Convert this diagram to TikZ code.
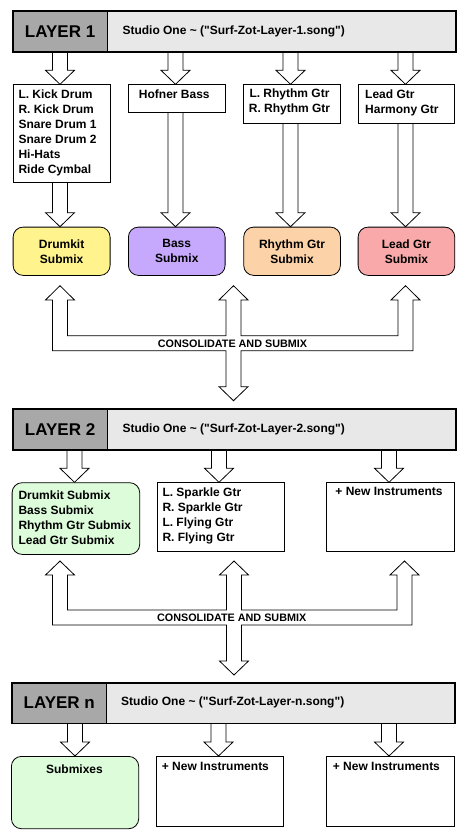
\documentclass[tikz,border=0pt]{standalone}
\usepackage{fontspec}
\setmainfont{Liberation Sans}[Ligatures=TeXOff]
\usetikzlibrary{calc}
\pgfdeclarelayer{bg}
\pgfsetlayers{bg,main}
\definecolor{hdark}{HTML}{A8A8A8}
\definecolor{hlight}{HTML}{E8E8E8}
\definecolor{cyel}{HTML}{FEF38C}
\definecolor{cpur}{HTML}{C6A9FD}
\definecolor{cpea}{HTML}{FCD2A9}
\definecolor{cpin}{HTML}{F9A9A9}
\definecolor{cgrn}{HTML}{DCFCDA}
\tikzset{
 hdrdark/.style={draw=black, fill=hdark, line width=0.8pt, inner sep=0, anchor=north west, minimum height=40pt, font=\fontsize{17}{20}\selectfont\bfseries},
 hdrlight/.style={draw=black, fill=hlight, line width=0.8pt, inner sep=0, anchor=north west, minimum height=40pt},
 hdrframe/.style={line width=1.5pt},
 studio/.style={anchor=west, inner sep=0, font=\fontsize{12}{15}\selectfont\bfseries},
 plainbox/.style={draw=black, fill=white, line width=0.8pt, inner sep=0, anchor=north west},
 subbox/.style={draw=black, line width=0.8pt, rounded corners=10pt, inner sep=0, anchor=north west, align=center, font=\fontsize{12}{15}\selectfont\bfseries},
 boxtext/.style={inner sep=0, align=left, font=\fontsize{12}{15}\selectfont\bfseries},
 barrow/.style={draw=black, fill=white, line width=0.8pt, line join=miter},
 constext/.style={inner sep=0, font=\fontsize{10.8}{13}\selectfont\bfseries},
}
\newcommand\blockdown[3]{%
 \begin{pgfonlayer}{bg}
 \draw[barrow] let \p1=(#1,0), \p2=(#2.south), \p3=(#3.north) in
  (\x1-7.5pt,\y2) -- (\x1-7.5pt,\y3+14pt) -- (\x1-14.5pt,\y3+14pt) -- (\x1,\y3) -- (\x1+14.5pt,\y3+14pt) -- (\x1+7.5pt,\y3+14pt) -- (\x1+7.5pt,\y2);
 \end{pgfonlayer}}
\begin{document}
\begin{tikzpicture}[x=1pt,y=-1pt]
\useasboundingbox (0,0) rectangle (467,840);
% ---------- LAYER 1 ----------
\node[hdrdark, minimum width=94pt] (L1) at (12.7,11) {LAYER 1};
\node[hdrlight, minimum width=348.3pt] (S1) at (106.7,11) {};
\node[studio] (S1t) at (122.3,31) {Studio One \textasciitilde{} ("Surf-Zot-Layer-1.song")};
\draw[hdrframe] (L1.north west) rectangle (S1.south east);

\node[plainbox, minimum width=97pt, minimum height=97.4pt] (B1) at (12.7,84.3) {};
\node[plainbox, minimum width=96.7pt, minimum height=27.4pt] (B2) at (128,84.3) {};
\node[plainbox, minimum width=96.7pt, minimum height=38.4pt] (B3) at (243.3,84.3) {};
\node[plainbox, minimum width=96.7pt, minimum height=38.4pt] (B4) at (357.7,84.3) {};
\node[boxtext, anchor=north west] (B1t) at (18.3,89.7) {L. Kick Drum\\R. Kick Drum\\Snare Drum 1\\Snare Drum 2\\Hi-Hats\\Ride Cymbal};
\node[boxtext, anchor=north] (B2t) at (174.3,89.7) {Hofner Bass};
\node[boxtext, anchor=north, align=center] (B3t) at (289.5,88.7) {L. Rhythm Gtr\\R. Rhythm Gtr};
\node[boxtext, anchor=north west] (B4t) at (365,89.7) {Lead Gtr\\Harmony Gtr};

\node[subbox, fill=cyel, minimum width=97pt, minimum height=48.3pt] (M1) at (12.7,226.7) {Drumkit\\Submix};
\node[subbox, fill=cpur, minimum width=96.7pt, minimum height=48.3pt] (M2) at (128,226.7) {Bass\\Submix};
\node[subbox, fill=cpea, minimum width=96.7pt, minimum height=48.3pt] (M3) at (243.3,226.7) {Rhythm Gtr\\Submix};
\node[subbox, fill=cpin, minimum width=96.7pt, minimum height=48.3pt] (M4) at (357.7,226.7) {Lead Gtr\\Submix};

\blockdown{60}{L1}{B1}
\blockdown{175.5}{S1}{B2}
\blockdown{290.5}{S1}{B3}
\blockdown{405.5}{S1}{B4}
\blockdown{60}{B1}{M1}
\blockdown{175.5}{B2}{M2}
\blockdown{290.5}{B3}{M3}
\blockdown{405.5}{B4}{M4}

\draw[barrow] (52.5,350.7) -- (52.5,300) -- (45.5,300) -- (60,285.7) -- (74.5,300) -- (67.5,300) -- (67.5,335.7) -- (226,335.7) -- (226,300) -- (219,300) -- (233.5,285.7) -- (248,300) -- (241,300) -- (241,335.7) -- (398,335.7) -- (398,300) -- (391,300) -- (405.5,285.7) -- (420,300) -- (413,300) -- (413,350.7) -- (241,350.7) -- (241,386.7) -- (248,386.7) -- (233.5,400.7) -- (219,386.7) -- (226,386.7) -- (226,350.7) -- cycle;
\node[constext] (C1) at (232.5,343.3) {CONSOLIDATE AND SUBMIX};

% ---------- LAYER 2 ----------
\node[hdrdark, minimum width=94pt] (L2) at (12.7,409) {LAYER 2};
\node[hdrlight, minimum width=348.3pt] (S2) at (106.7,409) {};
\node[studio] (S2t) at (122.3,429) {Studio One \textasciitilde{} ("Surf-Zot-Layer-2.song")};
\draw[hdrframe] (L2.north west) rectangle (S2.south east);

\node[subbox, fill=cgrn, minimum width=127.6pt, minimum height=71.7pt] (G2) at (11.7,482.3) {};
\node[boxtext, anchor=north west] (G2t) at (18.3,490.7) {Drumkit Submix\\Bass Submix\\Rhythm Gtr Submix\\Lead Gtr Submix};
\node[plainbox, minimum width=127.6pt, minimum height=68.7pt] (P2) at (156.7,482.3) {};
\node[boxtext, anchor=north west] (P2t) at (162.3,487.4) {L. Sparkle Gtr\\R. Sparkle Gtr\\L. Flying Gtr\\R. Flying Gtr};
\node[plainbox, minimum width=128.3pt, minimum height=68.7pt] (R2) at (326,482.3) {};
\node[boxtext, anchor=north] (R2t) at (389,487.4) {+ New Instruments};

\blockdown{74.5}{L2}{G2}
\blockdown{219}{S2}{P2}
\blockdown{389}{S2}{R2}

\draw[barrow] (52.5,625) -- (52.5,575) -- (45.5,575) -- (60,561) -- (74.5,575) -- (67.5,575) -- (67.5,610) -- (226.5,610) -- (226.5,575) -- (219.5,575) -- (234,561) -- (248.5,575) -- (241.5,575) -- (241.5,610) -- (397,610) -- (397,575) -- (390,575) -- (404.5,561) -- (419,575) -- (412,575) -- (412,625) -- (241.5,625) -- (241.5,661) -- (248.5,661) -- (234,675) -- (219.5,661) -- (226.5,661) -- (226.5,625) -- cycle;
\node[constext] (C2) at (231.7,617.3) {CONSOLIDATE AND SUBMIX};

% ---------- LAYER n ----------
\node[hdrdark, minimum width=94.3pt] (Ln) at (11.7,682.7) {LAYER n};
\node[hdrlight, minimum width=348.3pt] (Sn) at (106,682.7) {};
\node[studio] (Snt) at (121,702.7) {Studio One \textasciitilde{} ("Surf-Zot-Layer-n.song")};
\draw[hdrframe] (Ln.north west) rectangle (Sn.south east);

\node[subbox, fill=cgrn, minimum width=127.3pt, minimum height=72.3pt] (Gn) at (11,756) {};
\node[boxtext, anchor=north] (Gnt) at (74.5,765) {Submixes};
\node[plainbox, minimum width=127.6pt, minimum height=69.7pt] (Pn) at (155.7,756) {};
\node[boxtext, anchor=north west] (Pnt) at (161.7,761.7) {+ New Instruments};
\node[plainbox, minimum width=128.3pt, minimum height=69.7pt] (Rn) at (326,756) {};
\node[boxtext, anchor=north west] (Rnt) at (332.7,761.7) {+ New Instruments};

\blockdown{75}{Ln}{Gn}
\blockdown{218.5}{Sn}{Pn}
\blockdown{389}{Sn}{Rn}
\end{tikzpicture}
\end{document}
